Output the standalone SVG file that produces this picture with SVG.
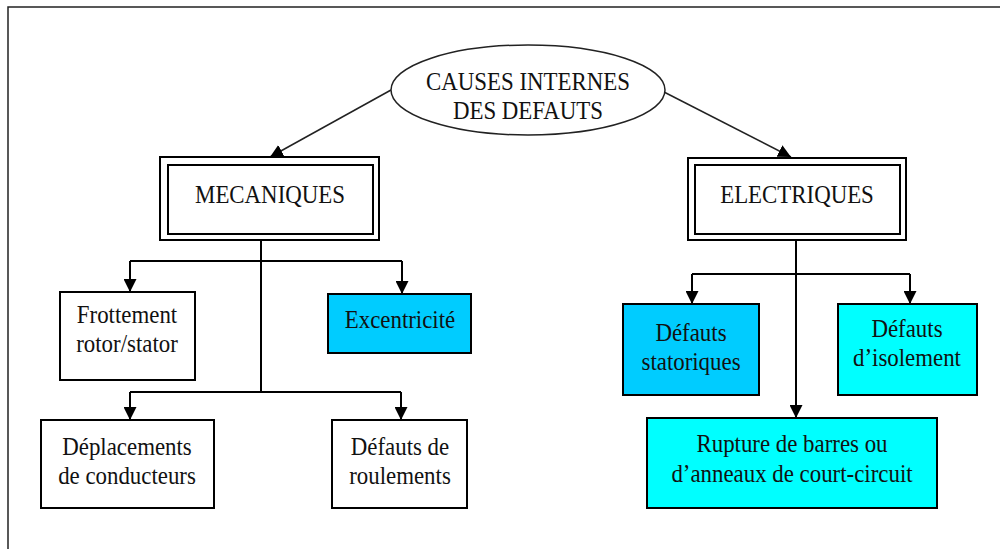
<svg xmlns="http://www.w3.org/2000/svg" width="1000" height="549" viewBox="0 0 1000 549">
  <defs>
    <marker id="arrow" viewBox="0 0 12 12" refX="12" refY="6" markerWidth="13" markerHeight="13" markerUnits="userSpaceOnUse" orient="auto">
      <path d="M0,0 L12,6 L0,12 Z" fill="#000"/>
    </marker>
    <style>
      .box { fill: #fff; stroke: #000; stroke-width: 2; }
      .blue { fill: #00ccff; }
      .cyan { fill: #00ffff; }
      .link { fill: none; stroke: #000; stroke-width: 2; }
      .diag { fill: none; stroke: #222; stroke-width: 1.5; }
      .lbl { font-family: "Liberation Serif", "Times New Roman", serif; font-size: 26px; fill: #111; text-anchor: middle; }
    </style>
  </defs>

  <rect width="1000" height="549" fill="#fff"/>
  <!-- page frame, runs off the right and bottom edges -->
  <path d="M8,549 V7 H1000" fill="none" stroke="#222" stroke-width="1.5"/>

  <!-- connectors -->
  <g id="connectors">
    <path class="diag" d="M391,90 L270,157" marker-end="url(#arrow)"/>
    <path class="diag" d="M664,92 L791,157" marker-end="url(#arrow)"/>
    <!-- mechanical branch -->
    <path class="link" d="M261,240 V392"/>
    <path class="link" d="M130,261 H402"/>
    <path class="link" d="M130,261 V292" marker-end="url(#arrow)"/>
    <path class="link" d="M402,261 V294" marker-end="url(#arrow)"/>
    <path class="link" d="M130,392 H401"/>
    <path class="link" d="M130,392 V420" marker-end="url(#arrow)"/>
    <path class="link" d="M401,392 V420" marker-end="url(#arrow)"/>
    <!-- electrical branch -->
    <path class="link" d="M796,240 V418" marker-end="url(#arrow)"/>
    <path class="link" d="M692,274 H910"/>
    <path class="link" d="M692,274 V304" marker-end="url(#arrow)"/>
    <path class="link" d="M910,274 V304" marker-end="url(#arrow)"/>
  </g>

  <g id="causes">
    <ellipse cx="528" cy="90" rx="137" ry="45" fill="#fff" stroke="#222" stroke-width="1.5"/>
    <text class="lbl" transform="translate(528 90) scale(0.88 1)">CAUSES INTERNES</text>
    <text class="lbl" transform="translate(528 119) scale(0.88 1)">DES DEFAUTS</text>
  </g>

  <g id="mecaniques">
    <rect class="box" x="160" y="157" width="219" height="83"/>
    <rect class="box" x="168" y="165" width="205" height="69"/>
    <text class="lbl" transform="translate(270 203) scale(0.88 1)">MECANIQUES</text>
  </g>

  <g id="electriques">
    <rect class="box" x="688" y="158" width="218" height="82"/>
    <rect class="box" x="695" y="165" width="205" height="69"/>
    <text class="lbl" transform="translate(797 203) scale(0.88 1)">ELECTRIQUES</text>
  </g>

  <g id="frottement">
    <rect class="box" x="60" y="292" width="135" height="88"/>
    <text class="lbl" transform="translate(127 323) scale(0.88 1)">Frottement</text>
    <text class="lbl" transform="translate(127 352) scale(0.88 1)">rotor/stator</text>
  </g>

  <g id="excentricite">
    <rect class="box blue" x="328" y="294" width="143" height="59"/>
    <text class="lbl" transform="translate(400 328) scale(0.88 1)">Excentricité</text>
  </g>

  <g id="deplacements">
    <rect class="box" x="41" y="420" width="173" height="88"/>
    <text class="lbl" transform="translate(127 455) scale(0.88 1)">Déplacements</text>
    <text class="lbl" transform="translate(127 484) scale(0.88 1)">de conducteurs</text>
  </g>

  <g id="roulements">
    <rect class="box" x="332" y="420" width="135" height="88"/>
    <text class="lbl" transform="translate(400 455) scale(0.88 1)">Défauts de</text>
    <text class="lbl" transform="translate(400 484) scale(0.88 1)">roulements</text>
  </g>

  <g id="statoriques">
    <rect class="box blue" x="623" y="304" width="136" height="91"/>
    <text class="lbl" transform="translate(691 341) scale(0.88 1)">Défauts</text>
    <text class="lbl" transform="translate(691 370) scale(0.88 1)">statoriques</text>
  </g>

  <g id="isolement">
    <rect class="box cyan" x="838" y="304" width="139" height="91"/>
    <text class="lbl" transform="translate(907 337) scale(0.88 1)">Défauts</text>
    <text class="lbl" transform="translate(907 366) scale(0.88 1)">d’isolement</text>
  </g>

  <g id="rupture">
    <rect class="box cyan" x="647" y="418" width="290" height="90"/>
    <text class="lbl" transform="translate(792 452) scale(0.88 1)">Rupture de barres ou</text>
    <text class="lbl" transform="translate(792 482) scale(0.88 1)">d’anneaux de court-circuit</text>
  </g>
</svg>
